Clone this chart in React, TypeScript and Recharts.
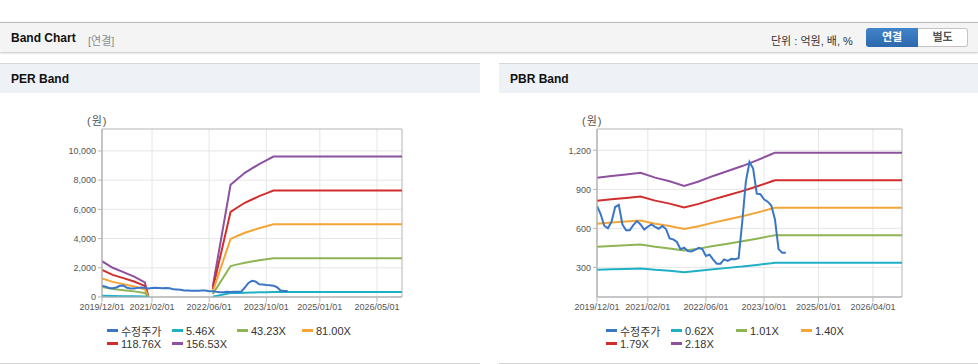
import { LineChart, Line, XAxis, YAxis, CartesianGrid, ReferenceArea } from 'recharts';

const FONT = '"Liberation Sans", Arial, "Noto Sans CJK KR", sans-serif';

// x = months since 2019/12/01
const perTicks = [0, 14, 30, 46, 61, 77];
const perTickLabels = ['2019/12/01', '2021/02/01', '2022/06/01', '2023/10/01', '2025/01/01', '2026/05/01'];
const pbrTicks = [0, 14, 30, 46, 61, 76];
const pbrTickLabels = ['2019/12/01', '2021/02/01', '2022/06/01', '2023/10/01', '2025/01/01', '2026/04/01'];

// 수정주가 (monthly, from 2019/12)
const priceValues = [
  772, 710, 620, 600, 650, 764, 780, 630, 585, 585,
  625, 656, 630, 590, 612, 630, 612, 597, 618, 595,
  523, 515, 495, 440, 451, 425, 422, 435, 450, 440,
  387, 398, 360, 328, 328, 361, 350, 365, 362, 370,
  650, 960, 1110, 1060, 867, 862, 823, 805, 775, 670,
  440, 413, 413,
];

// PER band (null = gap)
const perBandMonths = [0, 3, 6, 9, 12, 13, 20, 31, 36, 38, 40, 42, 44, 46, 48, 84];
const per546 = [85, 70, 59, 49, 35, 0, null, 24, 268, 282, 296, 307, 317, 326, 335, 335];
const per4323 = [680, 555, 470, 385, 280, 0, null, 195, 2120, 2235, 2345, 2430, 2510, 2580, 2655, 2655];
const per8100 = [1270, 1035, 880, 725, 520, 0, null, 360, 3975, 4190, 4400, 4555, 4710, 4840, 4975, 4975];
const per11876 = [1860, 1515, 1290, 1060, 760, 0, null, 530, 5830, 6145, 6450, 6675, 6905, 7095, 7290, 7290];
const per15653 = [2450, 2000, 1700, 1400, 1000, 0, null, 700, 7680, 8100, 8500, 8800, 9100, 9350, 9610, 9610];

// PBR band
const pbrBandMonths = [0, 4, 8, 12, 16, 20, 24, 28, 32, 36, 40, 44, 48, 49, 84];
const pbr062 = [281, 285, 288, 292, 281, 273, 263, 273, 285, 296, 306, 319, 332, 336, 336];
const pbr101 = [458, 464, 470, 476, 458, 445, 429, 444, 464, 482, 500, 520, 542, 547, 547];
const pbr140 = [636, 644, 652, 660, 636, 618, 595, 616, 644, 668, 693, 721, 751, 759, 759];
const pbr179 = [813, 823, 833, 844, 813, 790, 760, 788, 823, 855, 886, 922, 960, 970, 970];
const pbr218 = [990, 1003, 1015, 1028, 990, 962, 926, 960, 1003, 1041, 1079, 1123, 1170, 1182, 1182];

const COLORS = ['#3a76c6', '#1fb0c6', '#8db553', '#f4a535', '#d12d2d', '#8e519f'];
const perNames = ['수정주가', '5.46X', '43.23X', '81.00X', '118.76X', '156.53X'];
const pbrNames = ['수정주가', '0.62X', '1.01X', '1.40X', '1.79X', '2.18X'];

const priceData = priceValues.map((v, i) => ({ m: i, v }));
const toRows = (months: number[], vals: (number | null)[]) => months.map((m, i) => ({ m, v: vals[i] }));

const perSeries = [priceData, ...[per546, per4323, per8100, per11876, per15653].map((s) => toRows(perBandMonths, s))];
const pbrSeries = [priceData, ...[pbr062, pbr101, pbr140, pbr179, pbr218].map((s) => toRows(pbrBandMonths, s))];

const tickStyle = { fontSize: 9, fill: '#555', fontFamily: FONT };

function BandLegend({ names }: { names: string[] }) {
  return (
    <div
      style={{
        position: 'absolute',
        left: 107,
        top: 260,
        width: 260,
        display: 'flex',
        flexWrap: 'wrap',
        fontSize: 11,
        color: '#333',
        fontFamily: FONT,
      }}
    >
      {names.map((n, i) => (
        <div key={n} style={{ width: 65, height: 13.3, display: 'flex', alignItems: 'center', whiteSpace: 'nowrap' }}>
          <span style={{ width: 11, height: 3, background: COLORS[i], marginRight: 3, flex: 'none' }} />
          <span>{n}</span>
        </div>
      ))}
    </div>
  );
}

type ChartProps = {
  title: string;
  left: number;
  width: number;
  yWidth: number;
  marginLeft: number;
  marginRight: number;
  domain: [number, number];
  yTicks: number[];
  xTicks: number[];
  xLabels: string[];
  series: { m: number; v: number | null }[][];
  names: string[];
  unitLeft: number;
};

function BandPanel(p: ChartProps) {
  return (
    <div
      style={{
        position: 'absolute',
        left: p.left,
        top: 63,
        width: p.width,
        height: 299,
        borderTop: '1px solid #d5d8dc',
        borderBottom: '1px solid #d3d3d3',
        background: '#fff',
      }}
    >
      <div
        style={{
          height: 29,
          background: '#eef2f7',
          fontFamily: FONT,
          fontWeight: 'bold',
          fontSize: 12,
          color: '#111',
          lineHeight: '30px',
          paddingLeft: 11,
        }}
      >
        {p.title}
      </div>
      <div
        style={{
          position: 'absolute',
          left: p.unitLeft,
          top: 48,
          fontSize: 11,
          color: '#555',
          fontFamily: FONT,
          letterSpacing: 1,
        }}
      >
        (원)
      </div>
      <div style={{ position: 'absolute', left: 0, top: 30 }}>
        <LineChart
          width={p.width}
          height={227}
          margin={{ top: 35, right: p.marginRight, bottom: 0, left: p.marginLeft }}
        >
          <CartesianGrid stroke="#e6e6e6" verticalValues={p.xTicks} horizontalValues={p.yTicks} />
          <XAxis
            dataKey="m"
            type="number"
            domain={[0, 84]}
            ticks={p.xTicks}
            tickFormatter={(v: number) => p.xLabels[p.xTicks.indexOf(v)]}
            tick={tickStyle}
            tickSize={5}
            stroke="#b5b5b5"
            height={24}
            allowDataOverflow
            interval={0}
          />
          <YAxis
            type="number"
            domain={p.domain}
            ticks={p.yTicks}
            tickFormatter={(v: number) => v.toLocaleString('en-US')}
            tick={tickStyle}
            tickSize={4}
            stroke="#b5b5b5"
            width={p.yWidth}
            allowDataOverflow
            interval={0}
          />
          <ReferenceArea
            x1={0}
            x2={84}
            y1={p.domain[0]}
            y2={p.domain[1]}
            fill="none"
            stroke="#b5b5b5"
            strokeWidth={1}
          />
          {[5, 4, 3, 2, 1, 0].map((i) => (
            <Line
              key={i}
              data={p.series[i]}
              dataKey="v"
              name={p.names[i]}
              type="linear"
              stroke={COLORS[i]}
              strokeWidth={2}
              dot={false}
              activeDot={false}
              isAnimationActive={false}
            />
          ))}
        </LineChart>
      </div>
      <BandLegend names={p.names} />
    </div>
  );
}

export default function App() {
  return (
    <div style={{ position: 'absolute', left: 0, top: 0, width: 978, height: 364, background: '#fff', fontFamily: FONT }}>
      <div
        style={{
          position: 'absolute',
          left: 0,
          top: 22,
          width: 978,
          height: 29,
          borderTop: '1px solid #b8b8b8',
          background: '#f4f4f4',
          boxShadow: '0 1px 2px rgba(0,0,0,0.25)',
        }}
      >
        <span style={{ position: 'absolute', left: 11, top: 8, fontSize: 12, fontWeight: 'bold', color: '#111' }}>
          Band Chart
        </span>
        <span style={{ position: 'absolute', left: 88, top: 9, fontSize: 11, color: '#8c8c8c' }}>[연결]</span>
        <span style={{ position: 'absolute', left: 771, top: 9, fontSize: 11, color: '#333' }}>단위 : 억원, 배, %</span>
        <div
          style={{
            position: 'absolute',
            left: 866,
            top: 5,
            width: 52,
            height: 19,
            borderRadius: '3px 0 0 3px',
            background: 'linear-gradient(#4284c9, #2c68ad)',
            color: '#fff',
            fontSize: 11,
            fontWeight: 'bold',
            textAlign: 'center',
            lineHeight: '19px',
          }}
        >
          연결
        </div>
        <div
          style={{
            position: 'absolute',
            left: 918,
            top: 5,
            width: 49,
            height: 17,
            border: '1px solid #c4c4c4',
            borderLeft: 'none',
            borderRadius: '0 3px 3px 0',
            background: '#fff',
            color: '#555',
            fontSize: 11,
            fontWeight: 'bold',
            textAlign: 'center',
            lineHeight: '17px',
          }}
        >
          별도
        </div>
      </div>
      <BandPanel
        title="PER Band"
        left={0}
        width={480}
        yWidth={60}
        marginLeft={42}
        marginRight={78}
        domain={[0, 11500]}
        yTicks={[0, 2000, 4000, 6000, 8000, 10000]}
        xTicks={perTicks}
        xLabels={perTickLabels}
        series={perSeries}
        names={perNames}
        unitLeft={87}
      />
      <BandPanel
        title="PBR Band"
        left={499}
        width={479}
        yWidth={60}
        marginLeft={38}
        marginRight={76}
        domain={[72, 1364]}
        yTicks={[300, 600, 900, 1200]}
        xTicks={pbrTicks}
        xLabels={pbrTickLabels}
        series={pbrSeries}
        names={pbrNames}
        unitLeft={83}
      />
    </div>
  );
}
